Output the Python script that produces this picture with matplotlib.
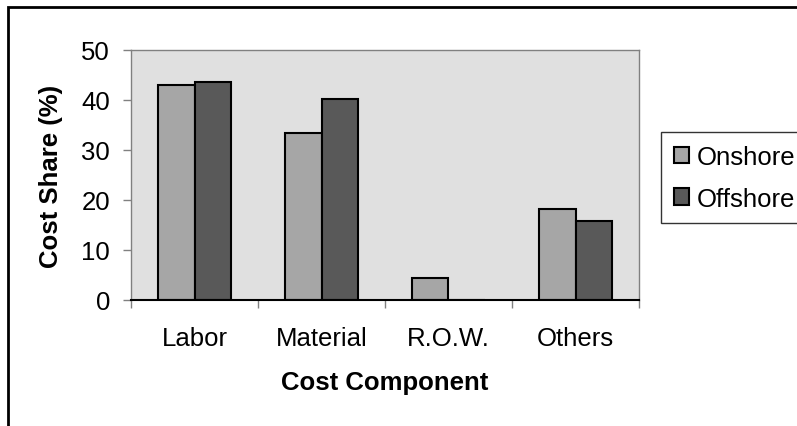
import matplotlib
matplotlib.use('Agg')
from matplotlib import pyplot as plt
from matplotlib.patches import Rectangle
import numpy as np

# data
categories = ['Labor', 'Material', 'R.O.W.', 'Others']
onshore = [43.1, 33.4, 4.4, 18.3]
offshore = [43.6, 40.2, 0.0, 15.9]
y_ticks = [0, 10, 20, 30, 40, 50]

plt.rcParams['font.family'] = ['Liberation Sans', 'DejaVu Sans']
fs = 18.5

W, H = 797, 427
fig = plt.figure(figsize=(W / 100, H / 100), dpi=100)

# outer frame (only left and top visible)
fig.patches.append(Rectangle((8 / W, -0.1), 1.2, 1 - 8 / H + 0.1, transform=fig.transFigure,
                             fill=False, edgecolor='black', linewidth=2))

ax = fig.add_axes([131 / W, 1 - 301 / H, (639 - 131) / W, (301 - 51) / H])
ax.set_facecolor('#e0e0e0')

x = np.arange(len(categories))
w = 0.285
ax.bar(x - w / 2, onshore, w, color='#a6a6a6', edgecolor='black', linewidth=1.5, label='Onshore')
ax.bar(x + w / 2, offshore, w, color='#595959', edgecolor='black', linewidth=1.5, label='Offshore')

ax.set_xlim(-0.5, len(categories) - 0.5)
ax.set_ylim(0, 50)
ax.set_yticks(y_ticks)
ax.set_xticks(np.arange(len(categories) + 1) - 0.5)
ax.set_xticklabels([])
ax.set_xticks(x, minor=True)
ax.set_xticklabels(categories, minor=True)
ax.tick_params(axis='x', which='minor', length=0, pad=19, labelsize=fs)
ax.tick_params(axis='x', which='major', length=6, width=1, color='#808080')
ax.tick_params(axis='y', length=6, width=1, color='#808080', labelsize=fs, pad=9)

for s in ['top', 'right', 'left']:
    ax.spines[s].set_color('#808080')
    ax.spines[s].set_linewidth(1)
ax.spines['bottom'].set_color('black')
ax.spines['bottom'].set_linewidth(1.5)

fig.text(385 / W, 1 - 383 / H, 'Cost Component', fontsize=fs, fontweight='bold',
         ha='center', va='center')
fig.text(51 / W, 1 - 176 / H, 'Cost Share (%)', fontsize=fs, fontweight='bold',
         ha='center', va='center', rotation=90)

leg = fig.legend(loc='upper left', bbox_to_anchor=(661 / W, 1 - 133 / H), fontsize=fs,
                 frameon=True, fancybox=False, shadow=False, handlelength=0.6, handleheight=0.6,
                 handletextpad=0.3, borderpad=0.5, labelspacing=0.69, borderaxespad=0)
leg.get_frame().set_edgecolor('black')
leg.get_frame().set_linewidth(1)
leg.get_frame().set_facecolor('white')

fig.savefig('out.png', dpi=100)
